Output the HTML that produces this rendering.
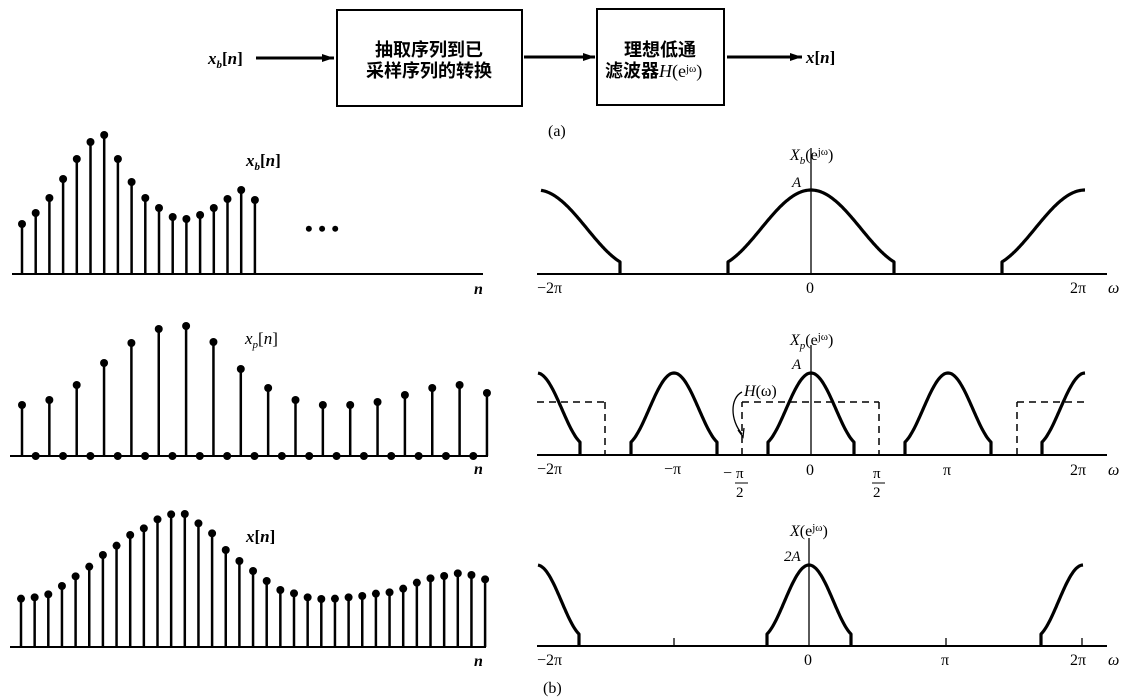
<!DOCTYPE html>
<html><head><meta charset="utf-8"><style>
html,body{margin:0;padding:0;background:#fff;}
svg{display:block;}
text{font-family:"Liberation Serif","Noto Serif CJK SC",serif;fill:#000;}
.i{font-style:italic;}
.cj{font-family:"Liberation Sans","Noto Sans CJK SC",sans-serif;font-weight:bold;font-size:18px;}
</style></head><body>
<svg id="s" width="1128" height="700" viewBox="0 0 1128 700" xmlns="http://www.w3.org/2000/svg">
<defs><marker id="ah" markerWidth="12" markerHeight="8" refX="12" refY="4" orient="auto" markerUnits="userSpaceOnUse"><path d="M0,0 L12,4 L0,8 z" fill="#000"/></marker></defs>
<g stroke="#000" fill="none" stroke-width="2">
<rect x="337" y="10" width="185" height="96"/>
<rect x="597" y="9" width="127" height="96"/>
<line x1="256" y1="58" x2="334" y2="58" stroke-width="3" marker-end="url(#ah)"/>
<line x1="524" y1="57" x2="595" y2="57" stroke-width="3" marker-end="url(#ah)"/>
<line x1="727" y1="57" x2="802" y2="57" stroke-width="3" marker-end="url(#ah)"/>
</g>
<text x="208" y="64" font-size="17" class="i" font-weight="bold">x<tspan font-size="11" dy="4">b</tspan><tspan dy="-4" font-style="normal">[</tspan>n<tspan font-style="normal">]</tspan></text>
<text x="429" y="56" text-anchor="middle" class="cj">抽取序列到已</text>
<text x="429" y="77" text-anchor="middle" class="cj">采样序列的转换</text>
<text x="660" y="56" text-anchor="middle" class="cj">理想低通</text>
<text x="605" y="77" class="cj">滤波器<tspan font-family="Liberation Serif" font-style="italic" font-weight="normal">H</tspan><tspan font-family="Liberation Serif" font-weight="normal">(e<tspan font-size="11" dy="-5">jω</tspan><tspan dy="5">)</tspan></tspan></text>
<text x="806" y="63" font-size="17" class="i" font-weight="bold">x<tspan font-style="normal">[</tspan>n<tspan font-style="normal">]</tspan></text>
<text x="548" y="136" font-size="16">(a)</text>

<g id="g" stroke="#000" fill="none"></g>

<!-- left labels -->
<text x="246" y="166" font-size="17" class="i" font-weight="bold">x<tspan font-size="11" dy="4">b</tspan><tspan dy="-4" font-style="normal">[</tspan>n<tspan font-style="normal">]</tspan></text>
<text x="305" y="236" font-size="22" font-weight="bold">• • •</text>
<text x="474" y="294" font-size="16" class="i" font-weight="bold">n</text>
<text x="245" y="344" font-size="17" class="i">x<tspan font-size="11" dy="4">p</tspan><tspan dy="-4" font-style="normal">[</tspan>n<tspan font-style="normal">]</tspan></text>
<text x="474" y="474" font-size="16" class="i" font-weight="bold">n</text>
<text x="246" y="542" font-size="17" class="i" font-weight="bold">x<tspan font-style="normal">[</tspan>n<tspan font-style="normal">]</tspan></text>
<text x="474" y="666" font-size="16" class="i" font-weight="bold">n</text>

<!-- right plot 1 -->
<text x="790" y="160" font-size="16" class="i">X<tspan font-size="11" dy="4">b</tspan><tspan dy="-4" font-style="normal">(e</tspan><tspan font-size="11" dy="-5" font-style="normal">jω</tspan><tspan dy="5" font-style="normal">)</tspan></text>
<text x="792" y="187" font-size="15" class="i">A</text>
<text x="537" y="293" font-size="16">−2π</text>
<text x="806" y="293" font-size="16">0</text>
<text x="1070" y="293" font-size="16">2π</text>
<text x="1108" y="293" font-size="16" class="i">ω</text>

<!-- right plot 2 -->
<text x="790" y="345" font-size="16" class="i">X<tspan font-size="11" dy="4">p</tspan><tspan dy="-4" font-style="normal">(e</tspan><tspan font-size="11" dy="-5" font-style="normal">jω</tspan><tspan dy="5" font-style="normal">)</tspan></text>
<text x="792" y="369" font-size="15" class="i">A</text>
<text x="744" y="396" font-size="16" class="i">H<tspan font-style="normal">(ω)</tspan></text>
<path d="M742,392 C730,398 730,420 742,434" stroke="#000" fill="none" stroke-width="1.3"/>
<path d="M738,430 L743,437 L744,428" stroke="#000" fill="none" stroke-width="1.3"/>
<text x="537" y="474" font-size="16">−2π</text>
<text x="664" y="474" font-size="16">−π</text>
<text x="723" y="478" font-size="16">−</text>
<text x="736" y="478" font-size="15">π</text>
<line x1="735" y1="483" x2="748" y2="483" stroke="#000" stroke-width="1"/>
<text x="736" y="497" font-size="15">2</text>
<text x="806" y="475" font-size="16">0</text>
<text x="873" y="478" font-size="15">π</text>
<line x1="872" y1="483" x2="885" y2="483" stroke="#000" stroke-width="1"/>
<text x="873" y="497" font-size="15">2</text>
<text x="943" y="475" font-size="16">π</text>
<text x="1070" y="475" font-size="16">2π</text>
<text x="1108" y="475" font-size="16" class="i">ω</text>

<!-- right plot 3 -->
<text x="790" y="536" font-size="16" class="i">X<tspan font-style="normal">(e</tspan><tspan font-size="11" dy="-5" font-style="normal">jω</tspan><tspan dy="5" font-style="normal">)</tspan></text>
<text x="784" y="561" font-size="15" class="i">2A</text>
<text x="537" y="665" font-size="16">−2π</text>
<text x="804" y="665" font-size="16">0</text>
<text x="941" y="665" font-size="16">π</text>
<text x="1070" y="665" font-size="16">2π</text>
<text x="1108" y="665" font-size="16" class="i">ω</text>
<text x="543" y="693" font-size="16">(b)</text>
</svg>
<script>
var g=document.getElementById('g');
function el(t,a){var e=document.createElementNS('http://www.w3.org/2000/svg',t);for(var k in a)e.setAttribute(k,a[k]);g.appendChild(e);return e;}
function line(x1,y1,x2,y2,w,d){var a={x1:x1,y1:y1,x2:x2,y2:y2,'stroke-width':w||2};if(d)a['stroke-dasharray']=d;el('line',a);}
function stems(base,xs,ys){for(var i=0;i<xs.length;i++){line(xs[i],base,xs[i],ys[i],2.5);el('circle',{cx:xs[i],cy:ys[i],r:4,fill:'#000',stroke:'none'});}}
// plot 1
line(12,274,483,274,2);
var t1=[224,213,198,179,159,142,135,159,182,198,208,217,219,215,208,199,190,200];
var x1=[];for(var i=0;i<18;i++)x1.push(22+i*13.7);stems(274,x1,t1);
// plot 2
line(10,456,488,456,2);line(487,456,487,446,2);
var t2=[405,400,385,363,343,329,326,342,369,388,400,405,405,402,395,388,385,393];
var x2=[];for(var i=0;i<18;i++)x2.push(22+i*27.35);stems(456,x2,t2);
for(var i=0;i<17;i++)el('circle',{cx:22+i*27.35+13.7,cy:456,r:4,fill:'#000',stroke:'none'});
// plot 3
line(10,647,486,647,2);
var v3=[356,352,343,318,289,260,225,197,165,145,118,103,102,130,160,210,243,273,303,330,340,352,357,356,352,348,341,337,326,308,295,288,280,285,298];
var x3=[],t3=[];for(var i=0;i<35;i++){x3.push(21+i*13.65);t3.push(480+v3[i]/3);}stems(647,x3,t3);
// spectra
function bump(c,hw,W,peak,ybot,axis,from,to){
  var p='';var first=true;
  var a=Math.max(-hw,from-c),b=Math.min(hw,to-c);
  if(a<=-hw+0.01){p+='M'+(c-hw)+','+axis;first=false;}
  for(var t=a;t<=b+0.001;t+=1){var y=ybot-(ybot-peak)*(1+Math.cos(Math.PI*t/W))/2;p+=(first?'M':'L')+(c+t).toFixed(1)+','+y.toFixed(1);first=false;}
  if(b>=hw-0.01)p+='L'+(c+hw)+','+axis;
  el('path',{d:p,'stroke-width':3.2,'stroke-linejoin':'round'});
}
// plot R1
line(537,274,1107,274,2);line(811,78+70,811,274,1.3);
bump(811,83,100,190,267.3,274,-999,999);
bump(537,83,100,190,267.3,274,541,999);
bump(1085,83,100,190,267.3,274,-999,1085);
// plot R2
line(537,455,1107,455,2);line(811,345,811,455,1.3);
[674,811,948].forEach(function(c){bump(c,43,50,373,445.6,455,-999,999);});
bump(537,43,50,373,445.6,455,538,999);
bump(1085,43,50,373,445.6,455,-999,1085);
var D='7,5';
line(537,402,605,402,1.5,D);line(605,402,605,455,1.5,D);
line(742,455,742,402,1.5,D);line(742,402,879,402,1.5,D);line(879,402,879,455,1.5,D);
line(1017,455,1017,402,1.5,D);line(1017,402,1085,402,1.5,D);
// plot R3
line(537,646,1107,646,2);line(809,538,809,646,1.3);
bump(809,42,49,565,637.7,646,-999,999);
bump(537,42,49,565,637.7,646,538,999);
bump(1083,42,49,565,637.7,646,-999,1083);
line(674,646,674,638,1.3);line(946,646,946,638,1.3);line(1082,646,1082,638,1.3);
</script>
</body></html>
